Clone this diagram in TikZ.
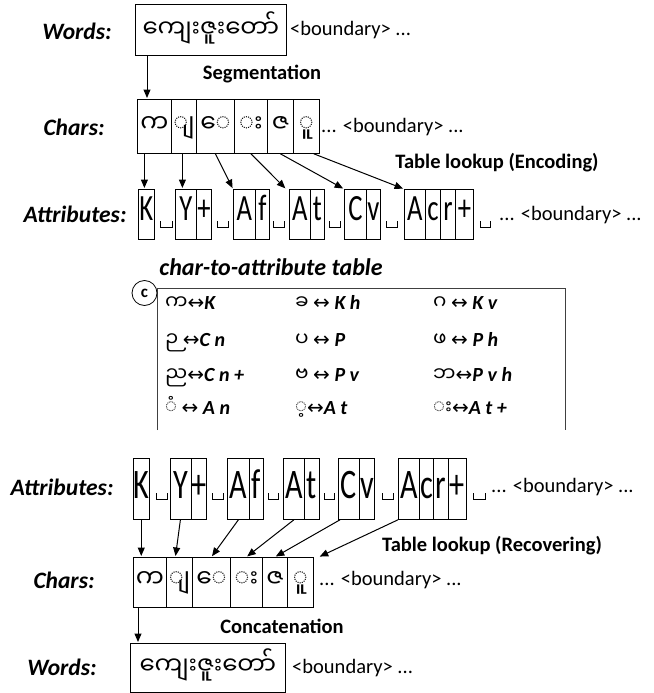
\documentclass[tikz,border=0pt]{standalone}
\usepackage{fontspec}
\setmainfont{Carlito}
\newfontfamily\mmfont[Script=Myanmar]{Noto Sans Myanmar UI}
\newfontfamily\symfont{DejaVu Sans}
\newfontfamily\narrowfont[FakeStretch=0.72]{Carlito}
\usetikzlibrary{arrows.meta}
\newcommand\mmtxt[1]{{\mmfont\mdseries\upshape #1}}
\newcommand\symtxt[1]{{\symfont\mdseries\upshape #1}}
% cell: style, name, x1, x2, y1, text
\newcommand\mkcell[6]{\node[#1,minimum width={#4-#3}] (#2) at (#3,#5) {#6};}
% visible space: x1, x2, baseline y
\newcommand\vsp[3]{\draw[vs] (#1,#3-6) -- (#1,#3) -- (#2,#3) -- (#2,#3-6);}
\begin{document}
\begin{tikzpicture}[x=1pt,y=-1pt,
  lbl/.style={font=\fontsize{23.5}{26}\selectfont\bfseries\itshape, inner sep=0},
  note/.style={font=\fontsize{20.5}{24}\selectfont\bfseries, inner sep=0},
  bnd/.style={font=\fontsize{20.5}{24}\selectfont, anchor=west, inner sep=0},
  wordbox/.style={draw, line width=0.8pt, inner sep=0, anchor=north west,
    font=\mmfont\fontsize{24.5}{28}\selectfont, text height=33pt, text depth=18pt},
  chtop/.style={draw, line width=0.8pt, inner sep=0, anchor=north west,
    font=\mmfont\fontsize{25}{28}\selectfont, text height=33pt, text depth=21pt},
  chbot/.style={chtop, text height=30pt, text depth=20pt},
  attop/.style={draw, line width=0.8pt, inner sep=0, anchor=north west,
    font=\narrowfont\fontsize{37}{37}\selectfont, text height=31pt, text depth=19pt},
  atbot/.style={attop, font=\narrowfont\fontsize{42}{42}\selectfont, text height=40pt, text depth=21pt},
  arr/.style={line width=1pt, shorten >=1pt, -{Triangle[length=8.5pt,width=7pt]}},
  vs/.style={line width=0.8pt},
  tab/.style={anchor=base west, inner sep=0, font=\fontsize{20}{22}\selectfont\bfseries\itshape},
  frame/.style={line width=0.8pt, draw=black!75},
]
\useasboundingbox (0,0) rectangle (653,693);

% ---------------- top half ----------------
\node[lbl] (lw1) at (77,31) {Words:};
\node[wordbox, minimum width=151pt] (w1) at (135,4) {ကျေးဇူးတော်};
\node[bnd] (bw1) at (290,30) {<boundary> ...};
\node[note] (seg) at (262,74) {Segmentation};

\node[lbl] (lc1) at (74,127) {Chars:};
\mkcell{chtop}{c1}{137}{171}{99}{က}
\mkcell{chtop}{c2}{171}{196}{99}{◌ျ}
\mkcell{chtop}{c3}{196}{234}{99}{◌ေ}
\mkcell{chtop}{c4}{234}{267}{99}{◌း}
\mkcell{chtop}{c5}{267}{293}{99}{ဇ}
\mkcell{chtop}{c6}{293}{319}{99}{◌ူ}
\node[bnd] (bc1) at (321,127) {... <boundary> ...};
\node[note] (enc) at (497,163) {Table lookup (Encoding)};

\node[lbl] (la1) at (75,214) {Attributes:};
\mkcell{attop}{tK}{138}{154}{189}{K}
\vsp{160}{172}{227}
\mkcell{attop}{tY}{175}{196}{189}{Y}
\mkcell{attop}{tP}{196}{211}{189}{+}
\vsp{217}{228}{227}
\mkcell{attop}{tA1}{233}{255}{189}{A}
\mkcell{attop}{tF}{255}{269}{189}{f}
\vsp{273}{284}{227}
\mkcell{attop}{tA2}{289}{310}{189}{A}
\mkcell{attop}{tT}{310}{324}{189}{t}
\vsp{329}{340}{227}
\mkcell{attop}{tC}{344}{366}{189}{C}
\mkcell{attop}{tV}{366}{380}{189}{v}
\vsp{386}{397}{227}
\mkcell{attop}{tA3}{404}{425}{189}{A}
\mkcell{attop}{tc}{425}{440}{189}{c}
\mkcell{attop}{tr}{440}{455}{189}{r}
\mkcell{attop}{tPP}{455}{473}{189}{+}
\vsp{480}{490}{227}
\node[bnd] (ba1) at (499,215) {... <boundary> ...};

% arrows top
\draw[arr] ([xshift=12pt]w1.south west) -- ([xshift=12pt]w1.south west |- c1.north);
\draw[arr] ([xshift=-10pt]c1.south) -- ([xshift=-10pt]c1.south |- tK.north);
\draw[arr] ([xshift=-1.5pt]c2.south) -- ([xshift=-1.5pt]c2.south |- tY.north);
\draw[arr] (c3.south) -- (tA1.north west);
\draw[arr] (c4.south) -- ([xshift=-3pt]tA2.north west);
\draw[arr] (c5.south) -- (tC.north west);
\draw[arr] ([xshift=-6pt]c6.south east) -- (tA3.north west);

% ---------------- table ----------------
\node[font=\fontsize{24}{26}\selectfont\bfseries\itshape, inner sep=0] (ttl) at (271,267) {char-to-attribute table};
\draw[frame] (157,430) -- (157,288) -- (565,288) -- (565,430);
\node[circle, draw, line width=0.8pt, minimum size=25pt, inner sep=0, fill=white,
  font=\fontsize{17}{17}\selectfont\bfseries] (cl) at (144.5,293) {c};

\node[tab] (e11) at (165,309) {\mmtxt{က}\symtxt{↔}K};
\node[tab] (e12) at (295,309) {\mmtxt{ခ} \symtxt{↔} K h};
\node[tab] (e13) at (433,309) {\mmtxt{ဂ} \symtxt{↔} K v};
\node[tab] (e21) at (165,346) {\mmtxt{ဉ} \symtxt{↔}C n};
\node[tab] (e22) at (295,346) {\mmtxt{ပ} \symtxt{↔} P};
\node[tab] (e23) at (433,346) {\mmtxt{ဖ} \symtxt{↔} P h};
\node[tab] (e31) at (165,381) {\mmtxt{ည}\symtxt{↔}C n +};
\node[tab] (e32) at (295,381) {\mmtxt{ဗ} \symtxt{↔} P v};
\node[tab] (e33) at (433,381) {\mmtxt{ဘ}\symtxt{↔}P v h};
\node[tab] (e41) at (165,414) {\mmtxt{◌ံ} \symtxt{↔} A n};
\node[tab] (e42) at (295,414) {\mmtxt{◌့}\symtxt{↔}A t};
\node[tab] (e43) at (433,414) {\mmtxt{◌း}\symtxt{↔}A t +};

% ---------------- bottom half ----------------
\node[lbl] (la2) at (62,487) {Attributes:};
\mkcell{atbot}{bK}{133}{148}{458}{K}
\vsp{156}{167}{499}
\mkcell{atbot}{bY}{170}{191}{458}{Y}
\mkcell{atbot}{bP}{191}{205}{458}{+}
\vsp{212}{223}{499}
\mkcell{atbot}{bA1}{227}{249}{458}{A}
\mkcell{atbot}{bF}{249}{263}{458}{f}
\vsp{268}{278}{499}
\mkcell{atbot}{bA2}{283}{304}{458}{A}
\mkcell{atbot}{bT}{304}{319}{458}{t}
\vsp{324}{334}{499}
\mkcell{atbot}{bC}{338}{359}{458}{C}
\mkcell{atbot}{bV}{359}{374}{458}{v}
\vsp{382}{393}{499}
\mkcell{atbot}{bA3}{398}{419}{458}{A}
\mkcell{atbot}{bc}{419}{433}{458}{c}
\mkcell{atbot}{br}{433}{448}{458}{r}
\mkcell{atbot}{bPP}{448}{466}{458}{+}
\vsp{473}{485}{499}
\node[bnd] (ba2) at (491,487) {... <boundary> ...};

\node[note] (rec) at (492,546) {Table lookup (Recovering)};

\node[lbl] (lc2) at (64,580) {Chars:};
\mkcell{chbot}{d1}{133}{166}{557}{က}
\mkcell{chbot}{d2}{166}{192}{557}{◌ျ}
\mkcell{chbot}{d3}{192}{230}{557}{◌ေ}
\mkcell{chbot}{d4}{230}{262}{557}{◌း}
\mkcell{chbot}{d5}{262}{287}{557}{ဇ}
\mkcell{chbot}{d6}{287}{313}{557}{◌ူ}
\node[bnd] (bc2) at (319,580) {... <boundary> ...};

\node[note] (cat) at (282,626) {Concatenation};

\node[lbl] (lw2) at (62,667) {Words:};
\node[wordbox, minimum width=155pt, text height=31pt, text depth=18pt] (w2) at (130,643) {ကျေးဇူးတော်};
\node[bnd] (bw2) at (292,668) {<boundary> ...};

% arrows bottom
\draw[arr] (bK.south) -- (bK.south |- d1.north);
\draw[arr] ([xshift=-0.5pt]bY.south) -- ([xshift=-4pt]d2.north);
\draw[arr] (bA1.south) -- (d3.north);
\draw[arr] (bA2.south) -- (d4.north);
\draw[arr] ([xshift=2pt]bC.south west) -- (d5.north);
\draw[arr] (bA3.south west) -- ([xshift=5pt]d6.north east);
\draw[arr] ([xshift=5pt]d1.south west) -- ([xshift=5pt]d1.south west |- w2.north);
\end{tikzpicture}
\end{document}
